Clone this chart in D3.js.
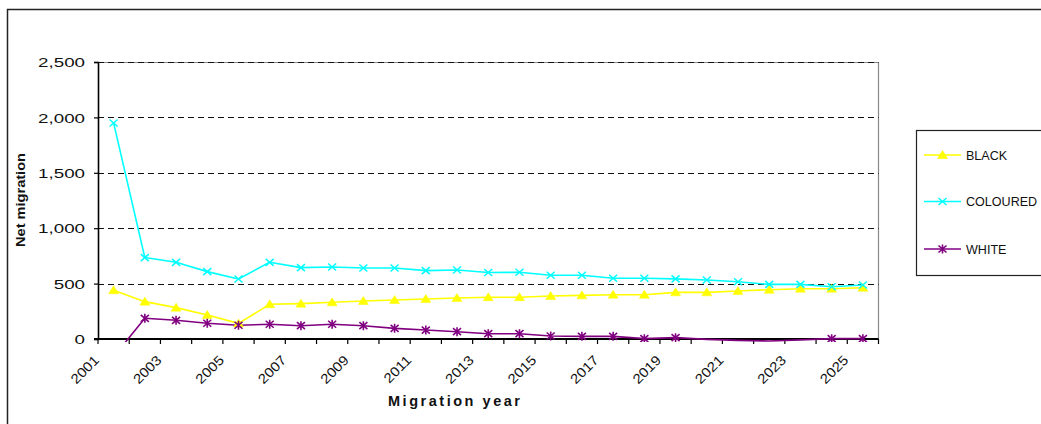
<!DOCTYPE html>
<html>
<head>
<meta charset="utf-8">
<script src="https://cdn.jsdelivr.net/npm/d3@7"></script>
<style>
  html, body { margin: 0; padding: 0; background: #fff; }
  svg { display: block; font-family: "Liberation Sans", Arial, sans-serif; }
</style>
</head>
<body>
<svg id="chart" width="1041" height="424"></svg>
<script>
// Net migration by population group, 2001-2025
const years = ["2001","2002","2003","2004","2005","2006","2007","2008","2009","2010",
               "2011","2012","2013","2014","2015","2016","2017","2018","2019","2020",
               "2021","2022","2023","2024","2025"];
const tickLabels = ["2001","2003","2005","2007","2009","2011","2013","2015","2017",
                    "2019","2021","2023","2025"];
const yTicks = [0, 500, 1000, 1500, 2000, 2500];

const black    = [440, 337, 283, 217, 141, 313, 319, 331, 343, 352, 361, 370, 377,
                  377, 388, 394, 400, 400, 421, 421, 433, 445, 454, 454, 463];
const coloured = [1950, 735, 692, 608, 542, 692, 644, 650, 641, 641, 617, 623, 600,
                  602, 575, 575, 548, 548, 543, 532, 517, 493, 493, 472, 487];
const white    = [-160, 187, 169, 142, 124, 133, 120, 133, 120, 96, 81, 66, 48,
                  48, 27, 24, 24, 3, 12, -3, -12, -18, -8, 3, 3];

const seriesNames = ["BLACK", "COLOURED", "WHITE"];
const seriesColors = ["#ffff00", "#00ffff", "#800080"];
const seriesSymbols = ["triangle", "cross", "star"];
const seriesValues = [black, coloured, white];

const FONT = "'Liberation Sans', Arial, sans-serif";
const svg = d3.select("#chart");
const plot = { left: 98, right: 878.5, top: 62, bottom: 339 };

const x = d3.scaleBand().domain(years).range([plot.left, plot.right]).padding(0);
const y = d3.scaleLinear().domain([0, 2500]).range([plot.bottom, plot.top]);

// stretch a text element horizontally along its baseline by factor k
function stretch(sel, k) {
  sel.each(function () {
    const w = this.getComputedTextLength();
    d3.select(this).attr("textLength", w * k).attr("lengthAdjust", "spacingAndGlyphs");
  });
}

// outer chart frame
svg.append("path")
  .attr("d", "M7.5,430 V9.5 H1050")
  .attr("fill", "none").attr("stroke", "#222").attr("stroke-width", 1.5);

// plot area border (top and right)
svg.append("path")
  .attr("d", `M${plot.left},${plot.top + 0.5} H${plot.right} V${plot.bottom}`)
  .attr("fill", "none").attr("stroke", "#888").attr("stroke-width", 1.2);

// dashed gridlines
svg.append("g").selectAll("line")
  .data(yTicks.filter(d => d > 0))
  .join("line")
  .attr("x1", plot.left).attr("x2", plot.right)
  .attr("y1", d => Math.round(y(d)) + 0.5).attr("y2", d => Math.round(y(d)) + 0.5)
  .attr("stroke", "#111").attr("stroke-width", 1)
  .attr("stroke-dasharray", "6,4");

// y axis
const yAxis = svg.append("g")
  .attr("transform", `translate(${plot.left},0)`)
  .call(d3.axisLeft(y).tickValues(yTicks).tickSize(4).tickPadding(0)
    .tickFormat(d3.format(",")))
  .attr("font-family", FONT);
yAxis.select(".domain").attr("stroke", "#000").attr("stroke-width", 1.6);
yAxis.selectAll(".tick line").attr("stroke", "#000").attr("stroke-width", 1.2);
yAxis.selectAll(".tick text")
  .attr("x", -13).attr("dy", "0.37em")
  .attr("font-size", 12.5).attr("fill", "#111")
  .attr("text-anchor", "end")
  .call(stretch, 1.5);

// x axis: ticks at category boundaries
const boundaries = years.map(d => x(d)).concat([plot.right]);
svg.append("g").selectAll("line")
  .data(boundaries)
  .join("line")
  .attr("x1", d => d).attr("x2", d => d)
  .attr("y1", plot.bottom).attr("y2", plot.bottom + 5)
  .attr("stroke", "#000").attr("stroke-width", 1.2);
svg.append("line")
  .attr("x1", plot.left - 4).attr("x2", plot.right)
  .attr("y1", plot.bottom).attr("y2", plot.bottom)
  .attr("stroke", "#000").attr("stroke-width", 1.8);

// rotated year labels at every other boundary
svg.append("g").selectAll("text")
  .data(tickLabels)
  .join("text")
  .attr("transform", d => `translate(${x(d) + 2},${plot.bottom + 22}) rotate(-45)`)
  .attr("text-anchor", "end")
  .attr("font-size", 13.5).attr("fill", "#111")
  .text(d => d)
  .call(stretch, 1.12);

// axis titles
svg.append("text")
  .attr("transform", "translate(25,200) rotate(-90)")
  .attr("text-anchor", "middle")
  .attr("font-size", 13).attr("font-weight", "bold").attr("fill", "#111")
  .attr("textLength", 94).attr("lengthAdjust", "spacingAndGlyphs")
  .text("Net migration");
svg.append("text")
  .attr("x", 454).attr("y", 406)
  .attr("text-anchor", "middle")
  .attr("font-size", 14.5).attr("font-weight", "bold").attr("fill", "#111")
  .attr("textLength", 132).attr("lengthAdjust", "spacing")
  .text("Migration year");

// clip series to the plot area
svg.append("clipPath").attr("id", "plotClip")
  .append("rect")
  .attr("x", plot.left).attr("y", plot.top - 10)
  .attr("width", plot.right - plot.left).attr("height", plot.bottom - plot.top + 13);

function drawSymbol(g, type, color) {
  if (type === "triangle") {
    g.append("path").attr("d", "M0,-4.5 L5,3.5 L-5,3.5 Z").attr("fill", color).attr("stroke", color).attr("stroke-width", 0.5);
  } else if (type === "cross") {
    g.append("path").attr("d", "M-4,-3.5 L4,3.5 M-4,3.5 L4,-3.5")
      .attr("stroke", color).attr("stroke-width", 1.5).attr("fill", "none");
  } else {
    g.append("path").attr("d", "M-4,-3.5 L4,3.5 M-4,3.5 L4,-3.5 M0,-4.5 V4.5")
      .attr("stroke", color).attr("stroke-width", 1.6).attr("fill", "none");
  }
}

const line = d3.line()
  .x((d, i) => x(years[i]) + x.bandwidth() / 2)
  .y(d => y(d));

const seriesLayer = svg.append("g").attr("clip-path", "url(#plotClip)");
seriesValues.forEach((vals, s) => {
  seriesLayer.append("path")
    .datum(vals)
    .attr("d", line)
    .attr("fill", "none")
    .attr("stroke", seriesColors[s])
    .attr("stroke-width", 1.6)
    .attr("stroke-linejoin", "round");
});
seriesValues.forEach((vals, s) => {
  vals.forEach((v, i) => {
    if (v < 0) return; // markers outside the value axis are not drawn
    const g = seriesLayer.append("g")
      .attr("transform", `translate(${x(years[i]) + x.bandwidth() / 2},${y(v)})`);
    drawSymbol(g, seriesSymbols[s], seriesColors[s]);
  });
});

// legend
const legend = svg.append("g");
legend.append("rect")
  .attr("x", 916.5).attr("y", 130.5).attr("width", 140).attr("height", 145)
  .attr("fill", "#fff").attr("stroke", "#222").attr("stroke-width", 1.2);
const legendY = [155, 201.5, 249];
seriesNames.forEach((name, s) => {
  const g = legend.append("g").attr("transform", `translate(0,${legendY[s]})`);
  g.append("line").attr("x1", 924).attr("x2", 961).attr("y1", 0).attr("y2", 0)
    .attr("stroke", seriesColors[s]).attr("stroke-width", 1.6);
  const m = g.append("g").attr("transform", "translate(942.5,0)");
  drawSymbol(m, seriesSymbols[s], seriesColors[s]);
  g.append("text").attr("x", 966).attr("y", 4.5)
    .attr("font-size", 12.2).attr("fill", "#111")
    .text(name)
    .call(stretch, 1.03);
});
</script>
</body>
</html>
